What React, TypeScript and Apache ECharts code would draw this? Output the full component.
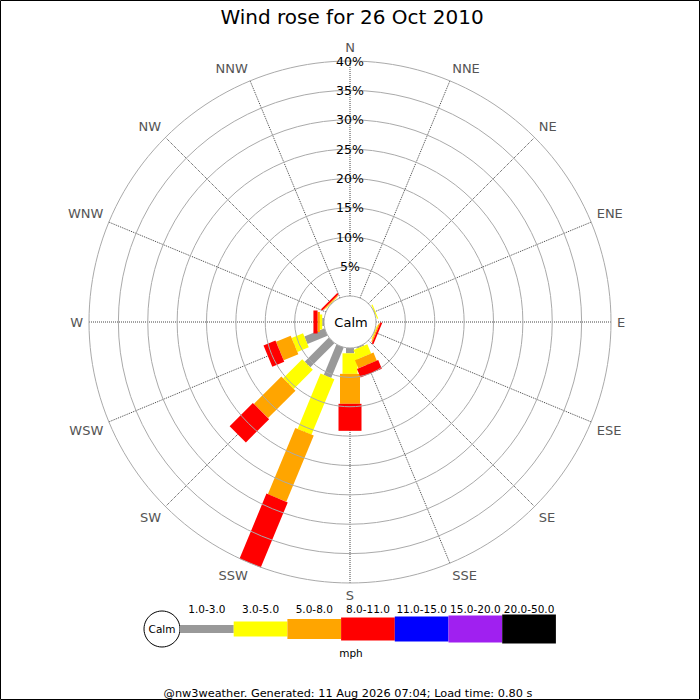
import React, { useEffect, useRef } from 'react';
import * as echarts from 'echarts';

// ---- data ----
const DIRECTIONS = ['N', 'NNE', 'NE', 'ENE', 'E', 'ESE', 'SE', 'SSE', 'S', 'SSW', 'SW', 'WSW', 'W', 'WNW', 'NW', 'NNW'];
const SPEED_CLASSES = ['1.0-3.0', '3.0-5.0', '5.0-8.0', '8.0-11.0', '11.0-15.0', '15.0-20.0', '20.0-50.0'];
// percentage of observations per direction (N..NNW) for each speed class (mph)
const SPEED_1_3 = [0, 0, 0, 0.05, 0, 0.05, 0, 0.2, 0.9, 5.6, 5.8, 3.7, 0.3, 0, 0.05, 0];
const SPEED_3_5 = [0, 0, 0, 0.2, 0, 0.15, 0, 1.7, 3.5, 10.2, 4.6, 2.1, 0.4, 0, 0.1, 0];
const SPEED_5_8 = [0, 0, 0, 0, 0, 0.2, 0, 1.5, 5.1, 12.2, 6.6, 2.7, 0.4, 0, 0.15, 0];
const SPEED_8_11 = [0, 0, 0, 0, 0, 0.3, 0, 1.6, 4.6, 12.0, 5.6, 2.2, 0.7, 0, 0.3, 0];
const SPEED_11_15 = [0, 0, 0, 0, 0, 0, 0, 0, 0, 0, 0, 0, 0, 0, 0, 0];
const SPEED_15_20 = [0, 0, 0, 0, 0, 0, 0, 0, 0, 0, 0, 0, 0, 0, 0, 0];
const SPEED_20_50 = [0, 0, 0, 0, 0, 0, 0, 0, 0, 0, 0, 0, 0, 0, 0, 0];
const RADIUS_MAX = 40;
const RADIUS_STEP = 5;
const TITLE = 'Wind rose for 26 Oct 2010';
const UNIT = 'mph';
const FOOTER = '@nw3weather. Generated: 11 Aug 2026 07:04; Load time: 0.80 s';

// ---- styles ----
const COLORS = ['#999999', '#ffff00', '#ffa500', '#ff0000', '#0000ff', '#a020f0', '#000000'];
const BAR_WIDTHS = [8, 15, 20, 23, 25, 27, 29];
const FONT = 'DejaVu Sans';
const CENTER = [350, 322];
const RADIUS = [26, 261];

const App: React.FC = () => {
  const ref = useRef<HTMLDivElement>(null);

  useEffect(() => {
    document.body.style.margin = '0';
    if (!ref.current) return;
    const chart = echarts.init(ref.current, undefined, { renderer: 'svg' });

    const classes = [SPEED_1_3, SPEED_3_5, SPEED_5_8, SPEED_8_11, SPEED_11_15, SPEED_15_20, SPEED_20_50];
    const cum = DIRECTIONS.map(() => 0);
    const series: any[] = classes.map((vals, k) => {
      const data = vals.map((v, i) => {
        const start = cum[i];
        cum[i] += v;
        return [start, cum[i], i * 22.5];
      });
      const w = BAR_WIDTHS[k];
      const color = COLORS[k];
      return {
        type: 'custom',
        name: SPEED_CLASSES[k],
        coordinateSystem: 'polar',
        polarIndex: 0,
        encode: { radius: 1, angle: 2 },
        data,
        renderItem: (params: any, api: any) => {
          const r0 = api.value(0);
          const r1 = api.value(1);
          const ang = api.value(2);
          if (!(r1 > r0)) return null;
          const cs = params.coordSys;
          const p0 = api.coord([r0, ang]);
          const p1 = api.coord([r1, ang]);
          const dx = p1[0] - cs.cx;
          const dy = p1[1] - cs.cy;
          const len = Math.hypot(dx, dy) || 1;
          const nx = (-dy / len) * (w / 2);
          const ny = (dx / len) * (w / 2);
          return {
            type: 'polygon',
            shape: {
              points: [
                [p0[0] + nx, p0[1] + ny],
                [p1[0] + nx, p1[1] + ny],
                [p1[0] - nx, p1[1] - ny],
                [p0[0] - nx, p0[1] - ny],
              ],
            },
            style: { fill: color, stroke: null },
          };
        },
      };
    });

    // legend graphics
    const legendX0 = 180;
    const legendW = 53.7;
    const legendY = 629;
    const graphic: any[] = [
      {
        type: 'text',
        x: 352,
        y: 16.5,
        style: { text: TITLE, fontSize: 20, fontFamily: FONT, fill: '#000', align: 'center', verticalAlign: 'middle' },
      },
      {
        type: 'text',
        x: CENTER[0] + 1,
        y: CENTER[1],
        z: 10,
        style: { text: 'Calm', fontSize: 13, fontFamily: FONT, fill: '#000', align: 'center', verticalAlign: 'middle' },
      },
      {
        type: 'circle',
        shape: { cx: 162, cy: legendY, r: 18 },
        style: { fill: '#fff', stroke: '#000', lineWidth: 1 },
      },
      {
        type: 'text',
        x: 162,
        y: legendY,
        style: { text: 'Calm', fontSize: 10.5, fontFamily: FONT, fill: '#000', align: 'center', verticalAlign: 'middle' },
      },
      {
        type: 'text',
        x: 351,
        y: 653,
        style: { text: UNIT, fontSize: 10.5, fontFamily: FONT, fill: '#000', align: 'center', verticalAlign: 'middle' },
      },
      {
        type: 'text',
        x: 348,
        y: 693,
        style: { text: FOOTER, fontSize: 11.3, fontFamily: FONT, fill: '#000', align: 'center', verticalAlign: 'middle' },
      },
      {
        type: 'rect',
        z: 100,
        shape: { x: 0.5, y: 0.5, width: 699, height: 699 },
        style: { fill: 'none', stroke: '#000', lineWidth: 1 },
      },
    ];
    SPEED_CLASSES.forEach((label, k) => {
      const h = BAR_WIDTHS[k];
      graphic.push({
        type: 'rect',
        shape: { x: legendX0 + k * legendW, y: legendY - h / 2, width: legendW, height: h },
        style: { fill: COLORS[k] },
      });
      graphic.push({
        type: 'text',
        x: legendX0 + (k + 0.5) * legendW,
        y: 608.5,
        style: {
          text: label,
          fontSize: 10.5,
          fontFamily: FONT,
          fill: '#000',
          align: 'center',
          verticalAlign: 'middle',
        },
      });
    });

    chart.setOption({
      animation: false,
      backgroundColor: '#fff',
      textStyle: { fontFamily: FONT },
      polar: { center: CENTER, radius: RADIUS },
      angleAxis: {
        type: 'value',
        min: 0,
        max: 360,
        interval: 22.5,
        startAngle: 90,
        clockwise: true,
        axisLine: { show: false },
        axisTick: { show: false },
        axisLabel: {
          margin: 6,
          fontSize: 13,
          lineHeight: 13,
          color: '#555',
          fontFamily: FONT,
          formatter: (v: number) => {
            if (v >= 360) return '';
            const name = DIRECTIONS[Math.round(v / 22.5) % 16];
            return v === 0 ? '{top|' + name + '}' : name;
          },
          rich: {
            top: { fontSize: 13, lineHeight: 13, color: '#555', fontFamily: FONT, padding: [0, 0, 3, 0] },
          },
        },
        splitLine: { show: true, lineStyle: { color: '#444', width: 1, type: [1, 1] } },
      },
      radiusAxis: {
        type: 'value',
        min: 0,
        max: RADIUS_MAX,
        interval: RADIUS_STEP,
        axisLine: { show: false },
        axisTick: { show: false },
        z: 5,
        axisLabel: {
          margin: 0,
          align: 'center',
          verticalAlign: 'middle',
          fontSize: 12.5,
          lineHeight: 12,
          color: '#000',
          fontFamily: FONT,
          formatter: (v: number) => (v === 0 ? '' : v + '%'),
        },
        splitLine: { show: true, lineStyle: { color: '#aaa', width: 1 } },
      },
      series,
      graphic,
    });

    return () => chart.dispose();
  }, []);

  return <div ref={ref} style={{ width: 700, height: 700 }} />;
};

export default App;
